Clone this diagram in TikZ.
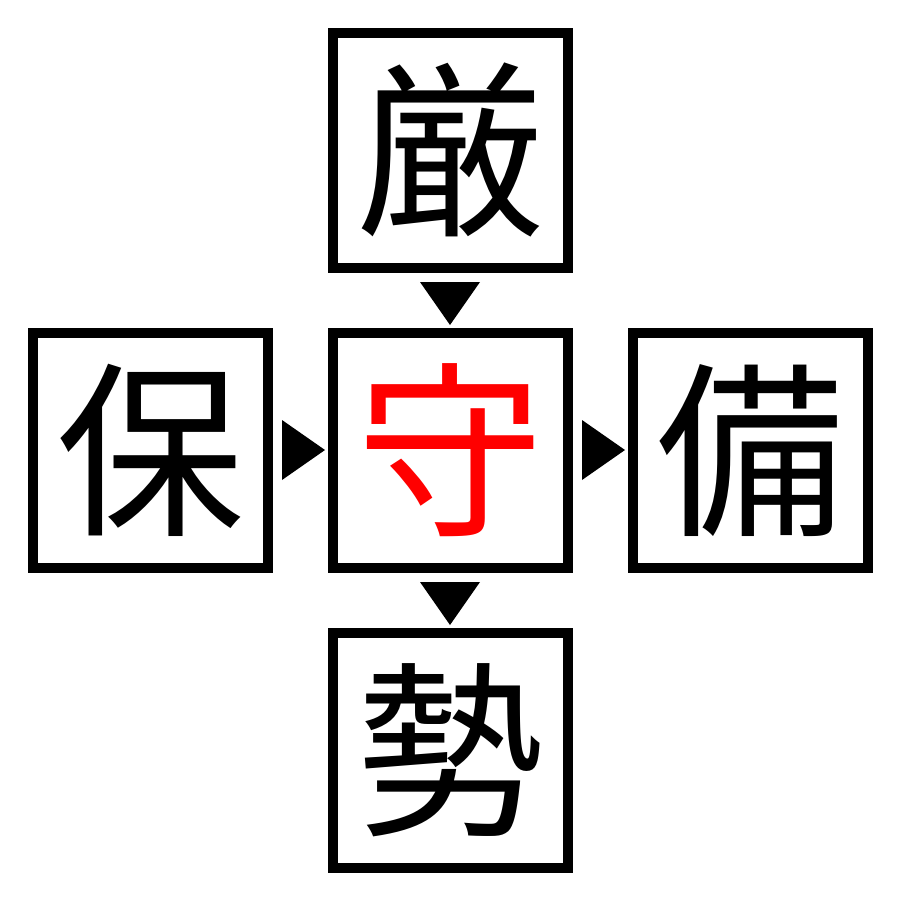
\documentclass[tikz,border=0pt]{standalone}
\usepackage{fontspec}
\newfontfamily\cjk{Noto Sans CJK JP}
\begin{document}
\begin{tikzpicture}[x=0.5pt,y=-0.5pt,
  charbox/.style={draw=black,line width=5pt,minimum size=117.5pt,inner sep=0pt,
    font=\cjk\fontsize{94}{94}\selectfont,text height=82.7pt,text depth=11.3pt},
  tri/.style={fill=black}]
\useasboundingbox (0,0) rectangle (900,900);
\node[charbox] (top) at (450,150) {厳};
\node[charbox] (left) at (150,450) {保};
\node[charbox,text=red] (mid) at (450,450) {守};
\node[charbox] (right) at (750,450) {備};
\node[charbox] (bot) at (450,750) {勢};
\fill[tri] (420,282) -- (480,282) -- (450,325) -- cycle;
\fill[tri] (282,420) -- (282,480) -- (325,450) -- cycle;
\fill[tri] (582,420) -- (582,480) -- (625,450) -- cycle;
\fill[tri] (420,582) -- (480,582) -- (450,625) -- cycle;
\end{tikzpicture}
\end{document}
